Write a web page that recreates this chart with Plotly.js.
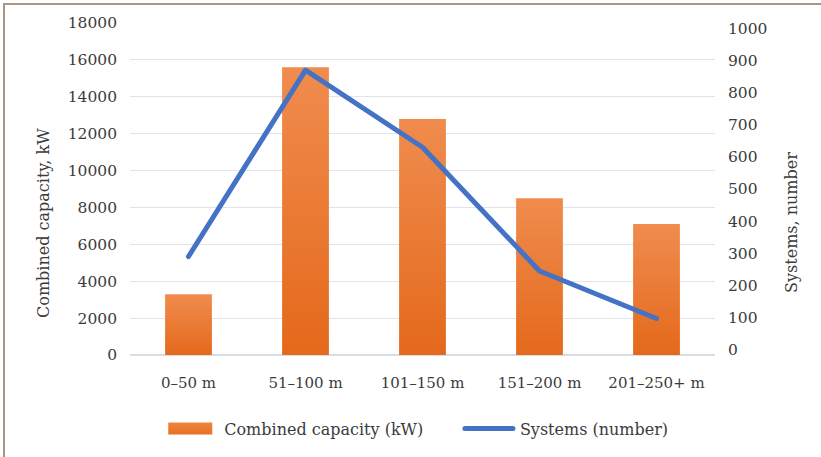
<!DOCTYPE html>
<html>
<head>
<meta charset="utf-8">
<script src="https://cdn.plot.ly/plotly-3.0.1.min.js"></script>
<style>
  html, body { margin: 0; padding: 0; background: #ffffff; }
  #frame { position: absolute; left: 0; top: 0; width: 821px; height: 457px; overflow: hidden; }
  #border { position: absolute; left: 3px; top: 3px; width: 830px; height: 470px;
            border-left: 2px solid #ab9583; border-top: 2px solid #ab9583; pointer-events: none; z-index: 5; }
  #chart { position: absolute; left: 0; top: 0; width: 821px; height: 457px; }
</style>
</head>
<body>
<div id="frame">
  <div id="chart"></div>
  <div id="border"></div>
</div>
<script>
// ---- data ----
const categories = ["0–50 m", "51–100 m", "101–150 m", "151–200 m", "201–250+ m"];
const capacityKW = [3300, 15600, 12800, 8500, 7100];
const systemsNumber = [290, 870, 630, 245, 97];
const leftTicks = [0, 2000, 4000, 6000, 8000, 10000, 12000, 14000, 16000, 18000];
const rightTicks = [0, 100, 200, 300, 400, 500, 600, 700, 800, 900, 1000];
const seriesNames = ["Combined capacity (kW)", "Systems (number)"];

const FONT = "DejaVu Serif, Liberation Serif, serif";
const TXT = "#3b3b3b";
const GAP = "\u00a0\u00a0\u00a0\u00a0\u00a0\u00a0\u00a0"; // extra spacing between legend entries

const traces = [
  {
    type: "bar",
    name: seriesNames[0] + GAP,
    x: categories,
    y: capacityKW,
    marker: { color: "#ec7a2f", line: { width: 0 } },
    hoverinfo: "skip"
  },
  {
    type: "scatter",
    mode: "lines",
    name: seriesNames[1],
    x: categories,
    y: systemsNumber,
    yaxis: "y2",
    line: { color: "#4472c4", width: 5 },
    hoverinfo: "skip"
  }
];

const layout = {
  width: 821,
  height: 457,
  margin: { l: 130, r: 106, t: 23, b: 101.5, autoexpand: false },
  paper_bgcolor: "#ffffff",
  plot_bgcolor: "#ffffff",
  font: { family: FONT, color: TXT, size: 15 },
  bargap: 0.6,
  showlegend: true,
  legend: {
    orientation: "h",
    x: 0.497, xanchor: "center",
    y: -0.222, yanchor: "middle",
    font: { family: FONT, size: 16, color: TXT },
    itemwidth: 46,
    tracegroupgap: 0,
    traceorder: "normal"
  },
  xaxis: {
    type: "category",
    showgrid: false,
    showline: false,
    zeroline: false,
    ticks: "",
    ticklabelstandoff: 17,
    tickfont: { family: FONT, size: 15, color: TXT }
  },
  yaxis: {
    range: [0, 18000],
    tickvals: leftTicks,
    ticktext: leftTicks.map(String),
    showgrid: true,
    gridcolor: "#e3e4ea",
    gridwidth: 1.2,
    zeroline: true,
    zerolinecolor: "#d8dde6",
    zerolinewidth: 1.5,
    showline: false,
    ticks: "",
    ticklabelstandoff: 12,
    tickfont: { family: FONT, size: 15.5, color: TXT }
  },
  yaxis2: {
    overlaying: "y",
    side: "right",
    range: [-16.5, 1016.8],
    tickvals: rightTicks,
    ticktext: rightTicks.map(String),
    showgrid: false,
    zeroline: false,
    showline: false,
    ticks: "",
    ticklabelstandoff: 12,
    tickfont: { family: FONT, size: 15.5, color: TXT }
  },
  annotations: [
    {
      text: "Combined capacity, kW",
      xref: "paper", yref: "paper",
      x: -0.148, y: 0.399, xanchor: "center", yanchor: "middle",
      textangle: -90, showarrow: false,
      font: { family: FONT, size: 16, color: TXT }
    },
    {
      text: "Systems, number",
      xref: "paper", yref: "paper",
      x: 1.1295, y: 0.4, xanchor: "center", yanchor: "middle",
      textangle: -90, showarrow: false,
      font: { family: FONT, size: 16, color: TXT }
    }
  ]
};

function addGradient(gd) {
  const svg = gd.querySelector("svg.main-svg");
  if (!svg) return;
  const ns = "http://www.w3.org/2000/svg";
  let defs = svg.querySelector("defs");
  if (!defs) { defs = document.createElementNS(ns, "defs"); svg.insertBefore(defs, svg.firstChild); }
  function grad(id, c0, c1) {
    const g = document.createElementNS(ns, "linearGradient");
    g.setAttribute("id", id);
    g.setAttribute("x1", "0"); g.setAttribute("y1", "0");
    g.setAttribute("x2", "0"); g.setAttribute("y2", "1");
    [["0", c0], ["1", c1]].forEach(([o, c]) => {
      const s = document.createElementNS(ns, "stop");
      s.setAttribute("offset", o); s.setAttribute("stop-color", c);
      g.appendChild(s);
    });
    defs.appendChild(g);
  }
  grad("barGrad", "#f08c4e", "#e4691b");
  grad("legGrad", "#ef8442", "#e8711f");
  gd.querySelectorAll(".barlayer .point path").forEach(p => { p.style.fill = "url(#barGrad)"; });
  // widen legend swatches to match the reference
  const items = gd.querySelectorAll(".legend .traces");
  items.forEach((it, i) => {
    const txt = it.querySelector("text.legendtext");
    const tx = txt ? parseFloat(txt.getAttribute("x")) || 40 : 40;
    if (i === 0) {
      const bar = it.querySelector(".legendpoints path");
      if (bar) {
        bar.removeAttribute("transform");
        let par = bar.parentNode;
        while (par && par !== it) { if (par.removeAttribute) par.removeAttribute("transform"); par = par.parentNode; }
        bar.setAttribute("d", "M" + (tx - 57) + ",-6h45v12h-45Z");
        bar.style.fill = "url(#legGrad)";
        bar.style.stroke = "none";
      }
    }
    if (i === 1) {
      const ln = it.querySelector(".legendlines path");
      if (ln) {
        ln.setAttribute("d", "M" + (tx - 55) + ",0h48");
        ln.style.strokeLinecap = "round";
      }
    }
  });
}

Plotly.newPlot("chart", traces, layout, { staticPlot: true, displayModeBar: false }).then(gd => {
  addGradient(gd);
  gd.querySelectorAll(".scatterlayer .js-line").forEach(p => {
    p.style.strokeLinecap = "round";
    p.style.strokeLinejoin = "round";
  });
});
</script>
</body>
</html>
